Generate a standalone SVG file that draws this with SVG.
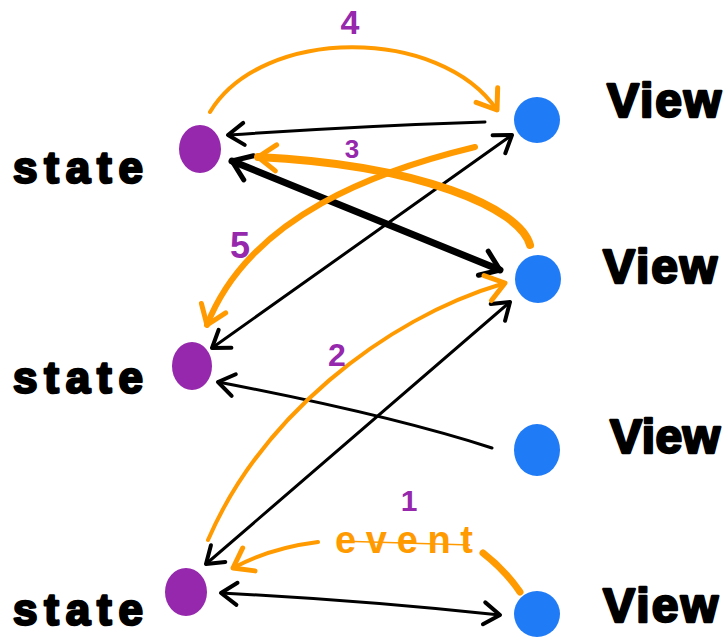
<svg xmlns="http://www.w3.org/2000/svg" width="726" height="641" viewBox="0 0 726 641">
<style>
.state{fill:#9628AD}
.view{fill:#1F7BF6}
.lbl{font-family:"Liberation Sans",Arial,sans-serif;font-weight:bold;fill:#000;stroke:#000;stroke-width:2.5;stroke-linejoin:round}
.num{font-family:"Liberation Sans",Arial,sans-serif;font-weight:bold;fill:#9628AD;text-anchor:middle}
.blk{fill:none;stroke:#000;stroke-width:3;stroke-linecap:round}
.blkthick{fill:none;stroke:#000;stroke-width:7;stroke-linecap:round}
.org{fill:none;stroke:#FF9A00;stroke-width:4;stroke-linecap:round}
</style>
<defs>
<marker id="ab" viewBox="-22 -16 26 32" refX="0" refY="0" markerWidth="26" markerHeight="32" markerUnits="userSpaceOnUse" orient="auto-start-reverse" overflow="visible">
<path d="M-16,-11 L0,0 L-16,11" fill="none" stroke="#000" stroke-width="4" stroke-linecap="round" stroke-linejoin="round"/>
</marker>
<marker id="abt" viewBox="-24 -18 28 36" refX="0" refY="0" markerWidth="28" markerHeight="36" markerUnits="userSpaceOnUse" orient="auto-start-reverse" overflow="visible">
<path d="M-18,-13 L0,0 L-18,13" fill="none" stroke="#000" stroke-width="5" stroke-linecap="round" stroke-linejoin="round"/>
</marker>
<marker id="ao" viewBox="-24 -18 28 36" refX="0" refY="0" markerWidth="28" markerHeight="36" markerUnits="userSpaceOnUse" orient="auto" overflow="visible">
<path d="M-18,-13 L0,0 L-18,13" fill="none" stroke="#FF9A00" stroke-width="5" stroke-linecap="round" stroke-linejoin="round"/>
</marker>
</defs>
<rect width="726" height="641" fill="#fff"/>

<g id="connectors">
<path class="blk" d="M485,122 Q360,126 228,135" marker-end="url(#ab)"/>
<path class="blkthick" d="M232,161 L500,270" marker-start="url(#abt)" marker-end="url(#abt)"/>
<path class="blk" d="M212,348 L512,135" marker-start="url(#ab)" marker-end="url(#ab)"/>
<path class="blk" d="M206,564 L510,302" marker-start="url(#ab)" marker-end="url(#ab)"/>
<path class="blk" d="M492,448 Q390,415 218,382" marker-end="url(#ab)"/>
<path class="blk" d="M221,593 Q360,600 500,615" marker-start="url(#ab)" marker-end="url(#ab)"/>

<path class="org" d="M210,112 C262,26 440,26 497,110" marker-end="url(#ao)"/>
<path class="org" style="stroke-width:8" d="M530,245 C520,208 420,165 258,157" marker-end="url(#ao)"/>
<path class="org" style="stroke-width:6" d="M475,147 C380,170 250,215 207,325" marker-end="url(#ao)"/>
<path class="org" d="M208,540 C260,420 380,320 505,283" marker-end="url(#ao)"/>
<path class="org" d="M318,542 Q270,548 233,568" marker-end="url(#ao)"/>
<path class="org" style="stroke-width:7" d="M483,553 Q505,570 520,592"/>
<path d="M338,541 L470,545" fill="none" stroke="#FF9A00" stroke-width="1.5"/>
<text x="335" y="553" font-family="'Liberation Sans',Arial,sans-serif" font-size="38" font-weight="bold" fill="#FF9A00" textLength="138" lengthAdjust="spacing">event</text>
</g>

<g id="state1">
<ellipse class="state" cx="200" cy="149" rx="21" ry="24"/>
<text class="lbl" x="13" y="183" font-size="44" textLength="130" lengthAdjust="spacing">state</text>
</g>
<g id="state2">
<ellipse class="state" cx="192" cy="366" rx="20" ry="24"/>
<text class="lbl" x="13" y="393" font-size="44" textLength="130" lengthAdjust="spacing">state</text>
</g>
<g id="state3">
<ellipse class="state" cx="186" cy="592" rx="21" ry="24"/>
<text class="lbl" x="13" y="625" font-size="44" textLength="130" lengthAdjust="spacing">state</text>
</g>

<g id="view1">
<ellipse class="view" cx="537" cy="120" rx="23" ry="23"/>
<text class="lbl" x="607" y="117" font-size="48" textLength="114" lengthAdjust="spacing">View</text>
</g>
<g id="view2">
<ellipse class="view" cx="538" cy="279" rx="23" ry="24"/>
<text class="lbl" x="603" y="283" font-size="48" textLength="114" lengthAdjust="spacing">View</text>
</g>
<g id="view3">
<ellipse class="view" cx="537" cy="450" rx="23" ry="26"/>
<text class="lbl" x="610" y="453" font-size="48" textLength="110" lengthAdjust="spacing">View</text>
</g>
<g id="view4">
<ellipse class="view" cx="537" cy="614" rx="23" ry="23"/>
<text class="lbl" x="603" y="622" font-size="48" textLength="115" lengthAdjust="spacing">View</text>
</g>

<g id="numbers">
<text class="num" x="350" y="34" font-size="34">4</text>
<text class="num" x="352" y="158" font-size="26">3</text>
<text class="num" x="240" y="258" font-size="36">5</text>
<text class="num" x="337" y="366" font-size="32">2</text>
<text class="num" x="409" y="511" font-size="30" font-weight="normal">1</text>
</g>
</svg>
